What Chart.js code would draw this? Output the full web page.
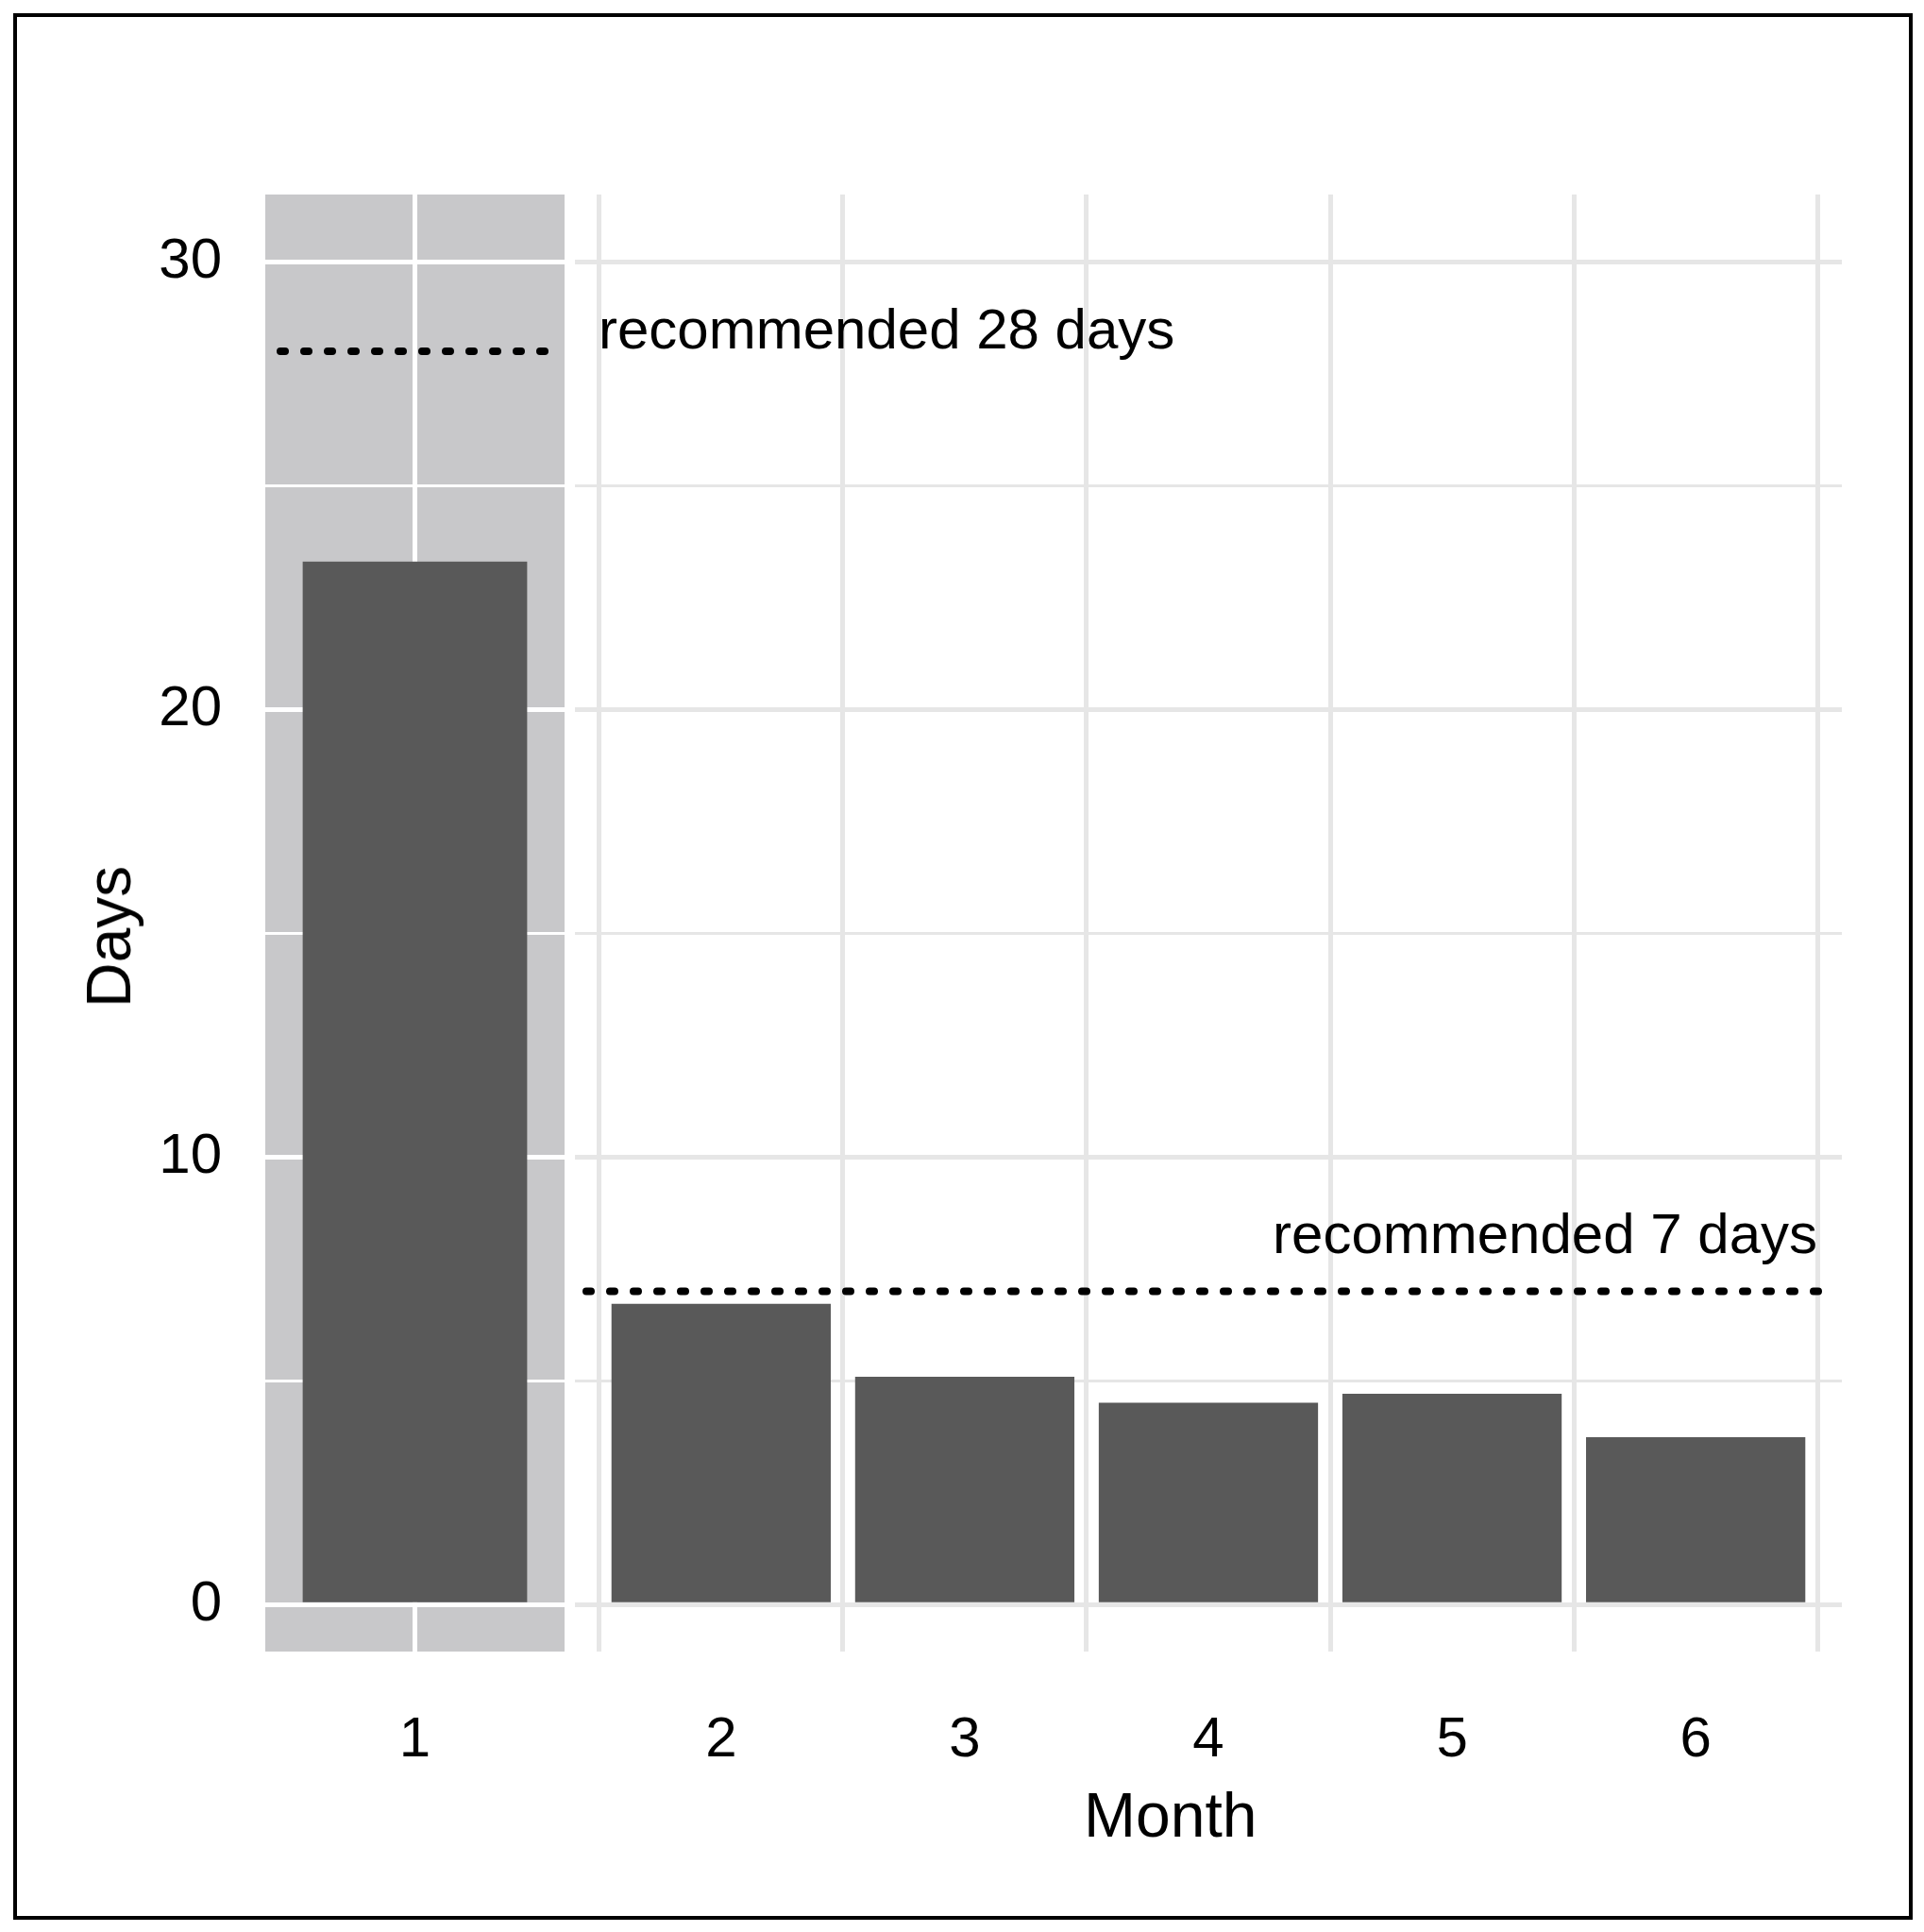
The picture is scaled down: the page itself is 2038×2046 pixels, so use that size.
<!DOCTYPE html>
<html><head><meta charset="utf-8">
<script src="https://cdn.jsdelivr.net/npm/chart.js@4"></script>
<style>
body{margin:0;background:#fff;width:2038px;height:2046px;position:relative;overflow:hidden;font-family:"Liberation Sans",Arial,sans-serif}
#frame{position:absolute;left:14px;top:14px;width:2004px;height:2011px;border:4px solid #000}
canvas{position:absolute;top:0}
#cA{left:0}
#cB{left:609px}
.t{position:absolute;color:#000;font-size:66px;white-space:nowrap}
</style></head><body>
<div id="frame"></div>
<canvas id="cA" width="598" height="2046" style="width:598px;height:2046px"></canvas>
<canvas id="cB" width="1429" height="2046" style="width:1429px;height:2046px"></canvas>
<div class="t" style="left:1148px;top:1884px;">Month</div>
<div class="t" style="left:115px;top:992px;transform:translate(-50%,-50%) rotate(-90deg);">Days</div>
<script>
const months1 = ['1'];
const days1 = [23.3];
const months2 = [2,3,4,5,6];
const days2 = [6.72,5.09,4.51,4.71,3.74];
const recommended1 = 28;
const recommended2 = 7;
const label1 = 'recommended 28 days';
const label2 = 'recommended 7 days';
const yTickValues = [0,10,20,30];

const FONT = '"Liberation Sans", Arial, sans-serif';
const BAR = '#595959';
function yScale(showTicks, gridColor){
  return {
    min:-1.05, max:31.5,
    afterBuildTicks(s){ s.ticks=[0,5,10,15,20,25,30].map(v=>({value:v})); },
    afterFit(s){ s.width = showTicks ? 281 : 0; },
    border:{display:false},
    grid:{color:gridColor, lineWidth:c=>c.tick && c.tick.value%10===0 ? 5 : 3, drawTicks:false},
    ticks:{display:showTicks, padding:46, color:'#000', font:{family:FONT,size:60},
      callback:v=>yTickValues.includes(v)?String(v):''}
  };
}
function dashLine(ctx, x0, x1, y){
  ctx.save(); ctx.strokeStyle='#000'; ctx.lineWidth=8; ctx.lineCap='round';
  ctx.setLineDash([5,20]); ctx.beginPath(); ctx.moveTo(x0,y); ctx.lineTo(x1,y); ctx.stroke(); ctx.restore();
}
const bgPlugin = {id:'bg', beforeDraw(ch){const a=ch.chartArea,c=ch.ctx;c.save();c.fillStyle='#c8c8ca';c.fillRect(a.left,a.top,a.right-a.left,a.bottom-a.top);c.restore();}};
const annA = {id:'annA', afterDatasetsDraw(ch){const a=ch.chartArea; dashLine(ch.ctx,a.left+16,a.right-16,ch.scales.y.getPixelForValue(recommended1));}};
const annB = {id:'annB', afterDatasetsDraw(ch){
  const a=ch.chartArea,c=ch.ctx,y=ch.scales.y;
  dashLine(c,a.left+12,a.right-16,y.getPixelForValue(recommended2));
  c.save(); c.fillStyle='#000'; c.font='60px '+FONT; c.textBaseline='middle';
  c.textAlign='left'; c.fillText(label1,a.left+25,y.getPixelForValue(28.4));
  c.textAlign='right'; c.fillText(label2,a.right-26,y.getPixelForValue(8.2));
  c.restore();
}};
const common = {responsive:false, animation:false, plugins:{legend:{display:false},tooltip:{enabled:false}}};

new Chart(document.getElementById('cA'), {
  type:'bar',
  data:{labels:months1, datasets:[{data:days1, backgroundColor:BAR, categoryPercentage:1, barPercentage:0.75}]},
  options:{...common, layout:{padding:{top:206,right:0,bottom:0,left:0}},
    scales:{
      x:{afterFit(s){s.height=297;}, border:{display:false}, grid:{offset:false,color:'#ffffff',lineWidth:5,drawTicks:false},
         ticks:{padding:58,color:'#000',font:{family:FONT,size:60}}},
      y:yScale(true,'#ffffff')
    }},
  plugins:[bgPlugin, annA]
});

new Chart(document.getElementById('cB'), {
  type:'bar',
  data:{datasets:[{data:months2.map((m,i)=>({x:m,y:days2[i]})), backgroundColor:BAR, categoryPercentage:1, barPercentage:0.9}]},
  options:{...common, layout:{padding:{top:206,right:87,bottom:0,left:0}},
    scales:{
      x:{type:'linear', min:1.4, max:6.6, offset:false,
         afterBuildTicks(s){ s.ticks=months2.map(v=>({value:v})); },
         afterFit(s){s.height=297;}, border:{display:false},
         grid:{color:'#e6e6e6',lineWidth:5,drawTicks:false},
         ticks:{padding:58,color:'#000',font:{family:FONT,size:60},callback:v=>String(v)}},
      y:yScale(false,'#e6e6e6')
    }},
  plugins:[annB]
});
</script>
</body></html>
